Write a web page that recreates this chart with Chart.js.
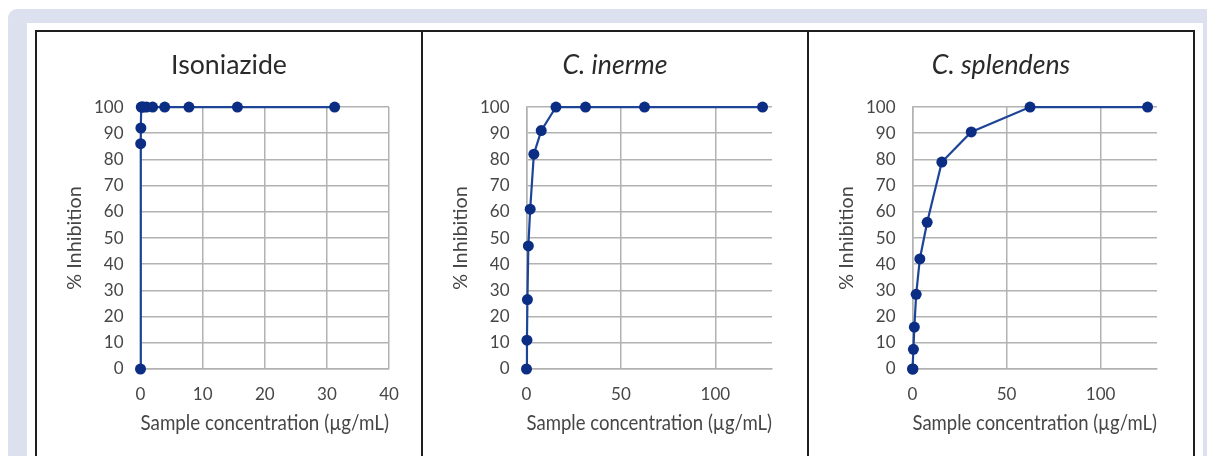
<!DOCTYPE html>
<html>
<head>
<meta charset="utf-8">
<script src="https://cdn.jsdelivr.net/npm/chart.js@4.4.0/dist/chart.umd.min.js"></script>
<style>
body { margin: 0; background: #fff; width: 1207px; height: 456px; overflow: hidden; position: relative; }
#marco { position: absolute; left: 8px; top: 9px; width: 1230px; height: 480px; background: #dde1ef; border-radius: 9px 0 0 0; }
#fondo { position: absolute; left: 27px; top: 23px; width: 1176px; height: 460px; background: #fff; }
#tabla { position: absolute; left: 35px; top: 30px; display: flex; border: 2px solid #1e1e1e; border-bottom: none; }
.celda { width: 384px; height: 424px; border-right: 2px solid #1e1e1e; }
.celda:last-child { border-right: none; }
</style>
</head>
<body>
<div id="marco"></div>
<div id="fondo"></div>
<div id="tabla">
    <div class="celda"><canvas id="grafica-iso" width="384" height="424"></canvas></div>
    <div class="celda"><canvas id="grafica-inerme" width="384" height="424"></canvas></div>
    <div class="celda"><canvas id="grafica-splendens" width="384" height="424"></canvas></div>
</div>
<script>
// Concentraciones (µg/mL) y % de inhibición
const isoConc = [0, 0.03, 0.06, 0.12, 0.24, 0.49, 0.98, 1.95, 3.9, 7.8, 15.6, 31.25];
const isoInhib = [0, 86, 92, 100, 100, 100, 100, 100, 100, 100, 100, 100];

const inermeConc = [0, 0.24, 0.49, 0.98, 1.95, 3.9, 7.8, 15.6, 31.25, 62.5, 125];
const inermeInhib = [0, 11, 26.5, 47, 61, 82, 91, 100, 100, 100, 100];

const splendensConc = [0, 0.24, 0.49, 0.98, 1.95, 3.9, 7.8, 15.6, 31.25, 62.5, 125];
const splendensInhib = [0, 0, 7.5, 16, 28.5, 42, 56, 79, 90.5, 100, 100];

const yTicks = [0, 10, 20, 30, 40, 50, 60, 70, 80, 90, 100];

const colorGrid = '#b2b2b2';
const colorTexto = '#464646';
const fuente = 'Lato, "Open Sans", sans-serif';

function crearGrafica(id, titulo, italica, conc, inhib, xMax, xPaso, derecha) {
    const ctx = document.getElementById(id).getContext('2d');
    return new Chart(ctx, {
        type: 'line',
        data: {
            datasets: [{
                data: conc.map((c, i) => ({ x: c, y: inhib[i] })),
                borderColor: '#1d4497',
                borderWidth: 2.2,
                backgroundColor: '#0b2d84',
                pointBackgroundColor: '#0b2d84',
                pointBorderColor: '#0b2d84',
                pointRadius: 5.5,
                pointBorderWidth: 0,
                tension: 0,
                clip: false
            }]
        },
        options: {
            responsive: false,
            animation: false,
            layout: { padding: 0 },
            plugins: {
                legend: { display: false },
                tooltip: { enabled: false },
                title: {
                    display: true,
                    text: titulo,
                    color: '#2a2a2a',
                    font: { family: fuente, size: 26.7, weight: 'normal', style: italica ? 'italic' : 'normal' },
                    padding: { top: 17, bottom: 26 }
                }
            },
            scales: {
                x: {
                    type: 'linear',
                    min: 0,
                    max: xMax,
                    afterBuildTicks: (s) => { s.ticks = s.ticks.filter(t => t.value % xPaso === 0); },
                    afterFit: (s) => { s.height = 87; },
                    grid: { color: colorGrid, lineWidth: 1.5, drawTicks: false },
                    border: { display: true, color: colorGrid, width: 1.5 },
                    ticks: { stepSize: xPaso, padding: 15.5, color: colorTexto, font: { family: fuente, size: 17 } },
                    title: {
                        display: true,
                        text: 'Sample concentration (µg/mL)',
                        color: colorTexto,
                        font: { family: fuente, size: 20.3 },
                        padding: { top: 0, bottom: 20.8 }
                    }
                },
                y: {
                    min: 0,
                    max: 100,
                    afterBuildTicks: (s) => { s.ticks = yTicks.map(v => ({ value: v })); },
                    afterFit: (s) => { s.width = 103.5; },
                    grid: { color: colorGrid, lineWidth: 1.5, drawTicks: false },
                    border: { display: true, color: colorGrid, width: 1.5 },
                    ticks: { padding: 17, color: colorTexto, font: { family: fuente, size: 17 } },
                    title: {
                        display: true,
                        text: '% Inhibition',
                        color: colorTexto,
                        font: { family: fuente, size: 19.8 },
                        padding: { top: 26.2, bottom: 0 }
                    }
                },
                // eje vacío a la derecha solo para dejar el margen sin descentrar el título
                margenDer: {
                    position: 'right',
                    display: true,
                    grid: { display: false },
                    border: { display: false },
                    ticks: { display: false },
                    afterFit: (s) => { s.width = derecha; }
                }
            }
        }
    });
}

crearGrafica('grafica-iso', 'Isoniazide', false, isoConc, isoInhib, 40, 10, 32);
crearGrafica('grafica-inerme', 'C. inerme', true, inermeConc, inermeInhib, 130, 50, 35);
crearGrafica('grafica-splendens', 'C. splendens', true, splendensConc, splendensInhib, 130, 50, 36);
</script>
</body>
</html>
